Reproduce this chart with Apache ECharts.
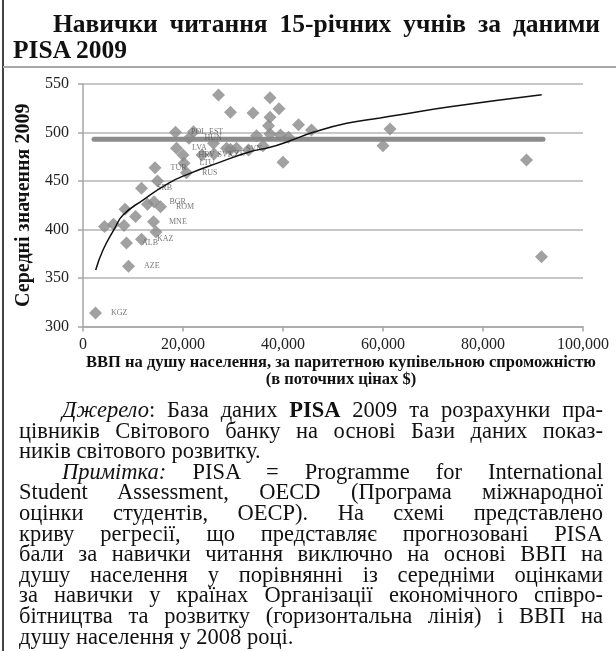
<!DOCTYPE html>
<html>
<head>
<meta charset="utf-8">
<script src="https://cdn.jsdelivr.net/npm/echarts/dist/echarts.min.js"></script>
<style>
  html, body { margin: 0; padding: 0; background: #fff; }
  body { width: 616px; height: 651px; position: relative; overflow: hidden; font-family: 'Liberation Serif', 'DejaVu Serif', serif; color: #111; }
  #chart { position: absolute; left: 0; top: 0; width: 616px; height: 651px; }
  .border-left { position: absolute; left: 2px; top: 0; width: 2px; height: 651px; background: #444; z-index: 2; }
  .sep { position: absolute; left: 3px; top: 66px; width: 613px; height: 2px; background: #a8a8a8; z-index: 2; }
  .title { position: absolute; left: 13px; top: 11px; width: 587px; font-weight: bold; font-size: 25.5px; line-height: 26px; z-index: 2; }
  .notes { position: absolute; left: 19px; top: 400px; width: 584px; font-size: 22.5px; line-height: 20.6px; z-index: 2; }
  .j { text-align: justify; text-align-last: justify; white-space: nowrap; }
  .l { text-align: left; white-space: nowrap; }
  .ind { padding-left: 43px; }
  .tind { padding-left: 40px; }
</style>
</head>
<body>
<div id="chart"></div>
<div class="border-left"></div>
<div class="sep"></div>
<div class="title">
  <div class="j tind">Навички читання 15-річних учнів за даними</div>
  <div class="l">PISA 2009</div>
</div>
<div class="notes">
  <div class="j ind"><i>Джерело</i>: База даних <b>PISA</b> 2009 та розрахунки пра-</div>
  <div class="j">цівників Світового банку на основі Бази даних показ-</div>
  <div class="l">ників світового розвитку.</div>
  <div class="j ind"><i>Примітка:</i> PISA = Programme for International</div>
  <div class="j">Student Assessment, OECD (Програма міжнародної</div>
  <div class="j">оцінки студентів, OECP). На схемі представлено</div>
  <div class="j">криву регресії, що представляє прогнозовані PISA</div>
  <div class="j">бали за навички читання виключно на основі ВВП на</div>
  <div class="j">душу населення у порівнянні із середніми оцінками</div>
  <div class="j">за навички у країнах Організації економічного співро-</div>
  <div class="j">бітництва та розвитку (горизонтальна лінія) і ВВП на</div>
  <div class="l">душу населення у 2008 році.</div>
</div>
<script>
// ---- Data ----
const xTickLabels = ['0', '20,000', '40,000', '60,000', '80,000', '100,000'];

const labeledCodes = ['KGZ','AZE','ALB','KAZ','MNE','BGR','ROM','SRB','TUR','RUS','LTU','LVA','HRV','SVK','CZE','SVN','POL','EST','HUN'];
const labeledGdp   = [2500, 9100, 8700, 11700, 14100, 14200, 15500, 11700, 14400, 20700, 20200, 18700, 20000, 23800, 26200, 29500, 18500, 22100, 21200];
const labeledScore = [314, 362, 386, 390, 408, 428.5, 423.5, 442.5, 463.7, 458.6, 468.2, 483.7, 476.8, 476.8, 477.8, 482.7, 500.2, 500.8, 494];

const otherGdp   = [4300, 6100, 8200, 8400, 10500, 12900, 14900, 14600, 26100, 28700, 30700, 33100, 27100, 29500, 34000, 37400, 39200, 37400, 37100, 43100, 45700, 34700, 37400, 39500, 41100, 36000, 40000, 61400, 60000, 88700, 91700];
const otherScore = [403, 405.5, 404, 421, 413.5, 426, 450, 397.5, 489, 483.7, 483.7, 482, 538.7, 520.8, 520, 535.8, 524.5, 515.7, 507, 508, 502.6, 496.7, 498.5, 497.5, 495, 486.4, 469.3, 503.6, 486.4, 471.6, 372];

const oecdGdp   = [2200, 92000];
const oecdScore = [493, 493];

const curveGdp   = [2540, 4000, 6340, 8000, 12000, 17060, 21400, 26740, 33400, 37400, 41400, 46060, 52740, 59400, 63400, 73400, 91740];
const curveScore = [358.2, 378.9, 401.2, 414.9, 430.4, 447.6, 457.9, 468.2, 480.2, 484.7, 491.5, 500.2, 509.5, 515, 518.4, 526.6, 539];

// ---- Chart ----
const serif = "'Liberation Serif', 'DejaVu Serif', serif";
const pointColor = '#8a8a8a';
const chart = echarts.init(document.getElementById('chart'), null, { renderer: 'canvas' });

const zip = (xs, ys) => xs.map((x, i) => [x, ys[i]]);

chart.setOption({
  animation: false,
  backgroundColor: 'transparent',
  grid: { left: 83, right: 33, top: 84, bottom: 324.5, containLabel: false },
  xAxis: {
    type: 'value', min: 0, max: 100000, interval: 20000,
    name: 'ВВП на душу населення, за паритетною купівельною спроможністю\n(в поточних цінах $)',
    nameLocation: 'middle', nameGap: 28,
    nameTextStyle: { fontFamily: serif, fontWeight: 'bold', fontSize: 16.5, lineHeight: 17, color: '#111', padding: [0, 0, 0, 16] },
    splitLine: { show: false },
    axisLine: { show: true, lineStyle: { color: '#a6a6a6', width: 1.5 } },
    axisTick: { show: true, length: 5, lineStyle: { color: '#a6a6a6', width: 1.5 } },
    axisLabel: { fontFamily: serif, fontSize: 16, color: '#222', margin: 10,
      formatter: (v) => xTickLabels[Math.round(v / 20000)] }
  },
  yAxis: {
    type: 'value', min: 300, max: 550, interval: 50,
    name: 'Середні значення 2009', nameLocation: 'middle', nameGap: 47, nameRotate: 90,
    nameTextStyle: { fontFamily: serif, fontWeight: 'bold', fontSize: 20, color: '#111' },
    splitLine: { show: true, lineStyle: { color: '#b5b5b5', width: 1.5 } },
    axisLine: { show: true, lineStyle: { color: '#a6a6a6', width: 1.5 } },
    axisTick: { show: true, length: 5, lineStyle: { color: '#a6a6a6', width: 1.5 } },
    axisLabel: { fontFamily: serif, fontSize: 16, color: '#222', margin: 14 }
  },
  series: [
    {
      name: 'OECD', type: 'line', z: 1, showSymbol: false, silent: true,
      data: zip(oecdGdp, oecdScore),
      lineStyle: { color: '#8c8c8c', width: 5, cap: 'round' }
    },
    {
      name: 'other', type: 'scatter', z: 2, symbol: 'diamond', symbolSize: 13,
      data: zip(otherGdp, otherScore),
      itemStyle: { color: pointColor }
    },
    {
      name: 'labeled', type: 'scatter', z: 3, symbol: 'diamond', symbolSize: 13,
      data: labeledCodes.map((c, i) => ({ name: c, value: [labeledGdp[i], labeledScore[i]] })),
      itemStyle: { color: pointColor },
      label: { show: true, position: 'right', distance: 9, formatter: '{b}',
        fontFamily: serif, fontSize: 8, color: '#555' }
    },
    {
      name: 'trend', type: 'line', z: 4, smooth: true, showSymbol: false, silent: true,
      data: zip(curveGdp, curveScore),
      lineStyle: { color: '#111', width: 1.5 }
    }
  ]
});
</script>
</body>
</html>
